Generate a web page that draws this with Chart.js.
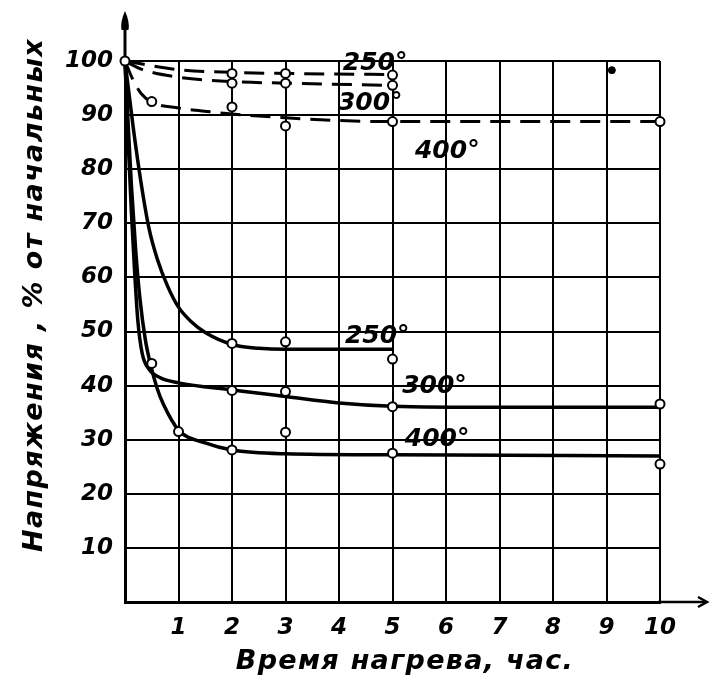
<!DOCTYPE html>
<html><head><meta charset="utf-8">
<script src="https://cdn.jsdelivr.net/npm/chart.js@4"></script>
<style>html,body{margin:0;padding:0;background:#fff;}canvas{display:block;}</style>
</head><body>
<canvas id="c" width="717" height="684"></canvas>
<script>
// ---- tick labels / titles ----
const xTickLabels = ['1','2','3','4','5','6','7','8','9','10'];
const yTickLabels = ['10','20','30','40','50','60','70','80','90','100'];
const xTitle = 'Время нагрева, час.';
const yTitle = 'Напряжения , % от начальных';

// ---- solid curves ----
const solid250X = [0, 0.15, 0.3, 0.45, 0.6, 0.8, 1, 1.25, 1.5, 2, 2.5, 3, 5];
const solid250Y = [100, 88, 77.5, 69, 63.5, 58.3, 54.5, 51.7, 49.8, 47.6, 46.9, 46.7, 46.7];
const solid300X = [0, 0.06, 0.12, 0.18, 0.24, 0.32, 0.45, 0.65, 1, 2, 3, 4, 5, 7, 10];
const solid300Y = [100, 85, 72, 61, 52, 46, 43, 41.5, 40.5, 39.2, 38, 36.8, 36.2, 36, 36];
const solid400X = [0, 0.06, 0.12, 0.2, 0.28, 0.38, 0.47, 0.6, 0.72, 1, 1.5, 2, 3, 5, 10];
const solid400Y = [100, 88, 77, 65, 56, 48.5, 44.2, 39.5, 36.5, 31.8, 29.4, 28.1, 27.4, 27.2, 27];

// ---- dashed curves ----
const dash250X = [0, 0.4, 1, 2, 3, 5];
const dash250Y = [100, 99.3, 98.4, 97.9, 97.7, 97.5];
const dash300X = [0, 0.3, 1, 2, 3, 5];
const dash300Y = [100, 98.5, 97, 96.2, 95.9, 95.5];
const dash400X = [0, 0.15, 0.3, 0.5, 1, 1.6, 2, 3, 4, 5, 10];
const dash400Y = [100, 96.5, 94, 92.4, 91.3, 90.6, 90.2, 89.5, 89, 88.8, 88.8];

// ---- measured points (open circles) ----
const pts250X = [0, 2, 3, 5];
const pts250Y = [100, 47.8, 48.1, 44.9];
const pts300X = [0.5, 2, 3, 5, 10];
const pts300Y = [44.1, 39.1, 38.9, 36.1, 36.6];
const pts400X = [1, 2, 3, 5, 10];
const pts400Y = [31.5, 28.1, 31.4, 27.5, 25.5];
const ptsD250X = [2, 3, 5];
const ptsD250Y = [97.7, 97.7, 97.4];
const ptsD300X = [2, 3, 5];
const ptsD300Y = [95.9, 95.9, 95.5];
const ptsD400X = [0.5, 2, 3, 5, 10];
const ptsD400Y = [92.5, 91.5, 88.0, 88.8, 88.8];
const strayX = [9.1];
const strayY = [98.3];

// ---- curve labels ----
const labelTexts = ['250°', '300°', '400°', '250°', '300°', '400°'];
const labelX = [4.07, 3.98, 5.42, 4.11, 5.18, 5.23];
const labelY = [98.3, 90.9, 82, 47.9, 38.6, 28.8];

const zip = (xs, ys) => xs.map((x, i) => ({x, y: ys[i]}));
const FONT = '"DejaVu Sans", sans-serif';

const curve = (xs, ys, dashed) => ({
  data: zip(xs, ys), showLine: true, pointRadius: 0, borderColor: '#000',
  borderWidth: dashed ? 3 : 3.5, borderDash: dashed ? [20, 10] : [],
  cubicInterpolationMode: 'monotone', fill: false, order: 2, clip: false
});
const marks = (xs, ys) => ({
  data: zip(xs, ys), showLine: false, pointRadius: 4.5, pointBorderWidth: 2,
  pointBackgroundColor: '#fff', pointBorderColor: '#000', order: 0, clip: false
});

const decor = {
  id: 'decor',
  beforeDatasetsDraw(chart) {
    const ctx = chart.ctx, a = chart.chartArea;
    ctx.save();
    ctx.strokeStyle = '#000'; ctx.fillStyle = '#000'; ctx.lineWidth = 3;
    ctx.beginPath(); ctx.moveTo(a.left, a.top + 2); ctx.lineTo(a.left, 26); ctx.stroke();
    ctx.beginPath(); ctx.moveTo(a.left, 11);
    ctx.quadraticCurveTo(a.left + 5, 22, a.left + 3.5, 30);
    ctx.lineTo(a.left - 3.5, 30);
    ctx.quadraticCurveTo(a.left - 5, 22, a.left, 11); ctx.fill();
    ctx.lineWidth = 2.5;
    ctx.beginPath(); ctx.moveTo(a.right - 2, a.bottom); ctx.lineTo(a.right + 46, a.bottom); ctx.stroke();
    ctx.beginPath(); ctx.moveTo(a.right + 38, a.bottom - 5); ctx.lineTo(a.right + 47, a.bottom);
    ctx.lineTo(a.right + 38, a.bottom + 5); ctx.stroke();
    ctx.restore();
  },
  afterDraw(chart) {
    const ctx = chart.ctx, xs = chart.scales.x, ys = chart.scales.y;
    ctx.save();
    ctx.fillStyle = '#000';
    ctx.font = 'italic bold 25px ' + FONT;
    ctx.textBaseline = 'alphabetic'; ctx.textAlign = 'left';
    labelTexts.forEach((t, i) => ctx.fillText(t, xs.getPixelForValue(labelX[i]), ys.getPixelForValue(labelY[i])));
    ctx.font = 'italic bold 27px ' + FONT;
    ctx.letterSpacing = '1.3px';
    ctx.textAlign = 'center';
    ctx.fillText(xTitle, 405, 669);
    ctx.translate(42, 295); ctx.rotate(-Math.PI / 2);
    ctx.font = 'italic bold 27px ' + FONT;
    ctx.letterSpacing = '1.4px';
    ctx.fillText(yTitle, 0, 0);
    ctx.restore();
  }
};

const tickFont = {family: FONT, size: 23, style: 'italic', weight: 'bold'};

new Chart(document.getElementById('c'), {
  type: 'scatter',
  data: {
    datasets: [
      marks(pts250X, pts250Y), marks(pts300X, pts300Y), marks(pts400X, pts400Y),
      marks(ptsD250X, ptsD250Y), marks(ptsD300X, ptsD300Y), marks(ptsD400X, ptsD400Y),
      {data: zip(strayX, strayY), showLine: false, pointRadius: 3.5, pointBackgroundColor: '#000', pointBorderColor: '#000', order: 0, clip: false},
      curve(solid250X, solid250Y, false), curve(solid300X, solid300Y, false), curve(solid400X, solid400Y, false),
      curve(dash250X, dash250Y, true), curve(dash300X, dash300Y, true), curve(dash400X, dash400Y, true)
    ]
  },
  options: {
    responsive: false, animation: false, devicePixelRatio: 1,
    layout: {padding: {left: 0, top: 61, right: 57, bottom: 0}},
    plugins: {legend: {display: false}, tooltip: {enabled: false}},
    scales: {
      x: {
        type: 'linear', min: 0, max: 10,
        afterFit: s => { s.height = 82; },
        grid: {color: '#000', lineWidth: 2, drawTicks: false},
        border: {color: '#000', width: 3},
        ticks: {stepSize: 1, padding: 12, color: '#000', font: tickFont,
          callback: v => xTickLabels.includes(String(v)) ? String(v) : ''}
      },
      y: {
        type: 'linear', min: 0, max: 100,
        afterFit: s => { s.width = 125; },
        grid: {color: '#000', lineWidth: 2, drawTicks: false},
        border: {color: '#000', width: 3},
        ticks: {stepSize: 10, padding: 12, color: '#000', font: tickFont,
          callback: v => yTickLabels.includes(String(v)) ? String(v) : ''}
      }
    }
  },
  plugins: [decor]
});
</script>
</body></html>
